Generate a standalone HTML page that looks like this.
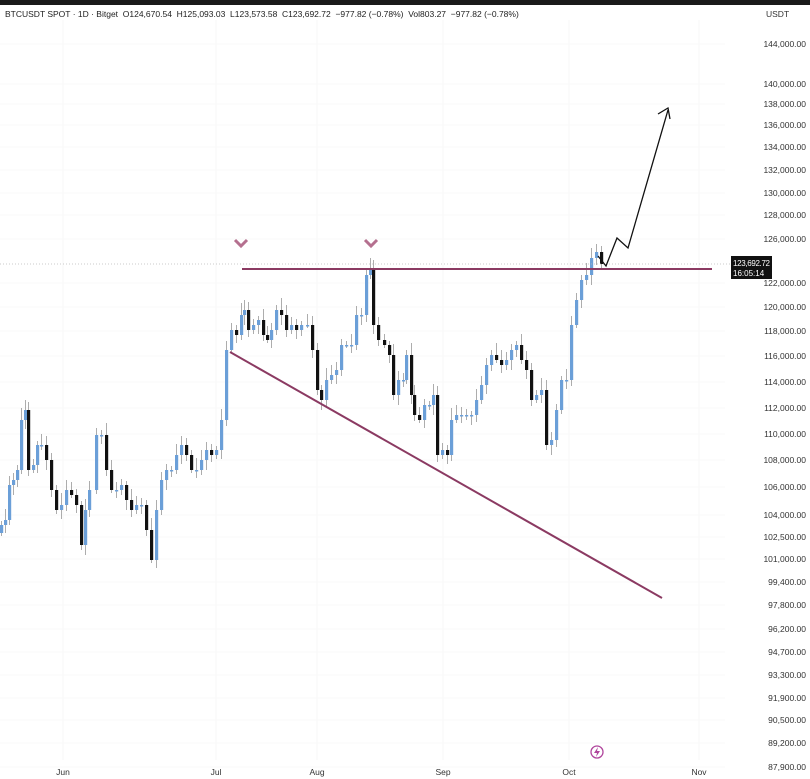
<!DOCTYPE html>
<html><head><meta charset="utf-8"><style>
html,body{margin:0;padding:0;background:#fff;}
body{width:810px;height:779px;overflow:hidden;position:relative;font-family:"Liberation Sans",sans-serif;}
#top{position:absolute;left:0;top:0;width:810px;height:5px;background:#1a1a1a;}
#hdr{position:absolute;left:5px;top:9px;font-size:8.5px;color:#222;white-space:nowrap;}
svg{position:absolute;left:0;top:0;}
</style></head><body>
<div id="top"></div>
<div id="hdr">BTCUSDT SPOT · 1D · Bitget &nbsp;O124,670.54 &nbsp;H125,093.03 &nbsp;L123,573.58 &nbsp;C123,692.72 &nbsp;−977.82 (−0.78%) &nbsp;Vol803.27 &nbsp;−977.82 (−0.78%)</div>
<svg id="s" width="810" height="779" xmlns="http://www.w3.org/2000/svg" font-family="Liberation Sans, sans-serif"></svg>
<script>
const s=document.getElementById('s');let h='';
[63,216,317,443,569,699].forEach(x=>h+=`<line x1="${x}" y1="20" x2="${x}" y2="760" stroke="#f7f7f7"/>`);
const ax=[[144000,44],[140000,84],[138000,104],[136000,125],[134000,147],[132000,170],[130000,193],[128000,215],[126000,239],[122000,283],[120000,307],[118000,331],[116000,356],[114000,382],[112000,408],[110000,434],[108000,460],[106000,487],[104000,515],[102500,537],[101000,559],[99400,582],[97800,605],[96200,629],[94700,652],[93300,675],[91900,698],[90500,720],[89200,743],[87900,767]];
ax.forEach(a=>{h+=`<line x1="0" y1="${a[1]}" x2="725" y2="${a[1]}" stroke="#fafafa"/>`;h+=`<text x="806" y="${a[1]+3}" font-size="8.5" text-anchor="end" fill="#333">${a[0].toLocaleString('en-US')}.00</text>`;});
h+=`<text x="766" y="17" font-size="8.5" fill="#333">USDT</text>`;
const m=[['Jun',63],['Jul',216],['Aug',317],['Sep',443],['Oct',569],['Nov',699]];
m.forEach(a=>h+=`<text x="${a[1]}" y="775" font-size="8.5" text-anchor="middle" fill="#333">${a[0]}</text>`);
const d=[[0,525],[4,520],[8,485],[12,480],[16,470],[20,420],[24,410],[27,470],[32,465],[36,445],[40,445],[45,460],[50,490],[55,510],[60,505],[65,490],[70,495],[75,505],[80,545],[84,510],[88,490],[95,435],[100,435],[105,470],[110,490],[115,490],[120,485],[125,500],[130,510],[135,505],[140,505],[145,530],[150,560],[155,510],[160,480],[165,470],[170,470],[175,455],[180,445],[185,455],[190,470],[195,470],[200,460],[205,450],[210,455],[215,450],[220,420],[225,350],[230,330],[235,335],[240,315],[243,310],[247,330],[252,325],[257,320],[262,335],[266,340],[270,330],[275,310],[280,315],[285,330],[290,325],[295,330],[300,325],[306,325],[311,350],[316,390],[320,400],[325,380],[330,375],[335,370],[340,345],[345,345],[350,345],[355,315],[360,315],[365,275],[369,270],[372,325],[377,340],[383,345],[388,355],[392,395],[397,380],[402,380],[405,355],[410,395],[413,415],[418,420],[423,405],[428,405],[432,395],[436,455],[441,450],[446,455],[450,420],[455,415],[460,415],[465,415],[470,415],[475,400],[480,385],[485,365],[490,355],[495,360],[500,365],[505,360],[510,350],[515,345],[520,360],[525,370],[530,400],[535,395],[540,390],[545,445],[550,440],[555,410],[560,380],[565,380],[570,325],[575,300],[580,280],[585,275],[590,258],[595,252],[600,264]];
for(let i=0;i<d.length;i++){const x=d[i][0],c=d[i][1],o=i?d[i-1][1]:c+8;const up=c<=o;const t=Math.min(o,c),b=Math.max(o,c);const hi=t-4-(i*7%9),lo=b+3+(i*5%8);
h+=`<line x1="${x+1.5}" y1="${hi}" x2="${x+1.5}" y2="${lo}" stroke="#999" stroke-width="0.8"/>`;
h+=`<rect x="${x}" y="${t}" width="3.2" height="${Math.max(b-t,1.5)}" fill="${up?'#6b9fd8':'#111'}"/>`;}
h+=`<line x1="0" y1="264" x2="730" y2="264" stroke="#bbb" stroke-dasharray="1,2" stroke-width="0.7"/>`;
h+=`<line x1="242" y1="269" x2="712" y2="269" stroke="#8b3a62" stroke-width="2"/>`;
h+=`<line x1="230" y1="352" x2="662" y2="598" stroke="#8b3a62" stroke-width="2"/>`;
[241,371].forEach(x=>h+=`<polyline points="${x-6},240 ${x},246 ${x+6},240" fill="none" stroke="#b5708f" stroke-width="3"/>`);
h+=`<polyline points="598,256 606,266 617,238 628,248 668,110" fill="none" stroke="#111" stroke-width="1.3"/>`;
h+=`<polyline points="658,114 668,108 670,119" fill="none" stroke="#111" stroke-width="1.3"/>`;
h+=`<rect x="731" y="256" width="41" height="23" fill="#111"/><text x="733" y="266" font-size="8" fill="#fff" textLength="37">123,692.72</text><text x="733" y="276" font-size="8" fill="#fff">16:05:14</text>`;
h+=`<circle cx="597" cy="752" r="6" fill="none" stroke="#b0459c" stroke-width="1.3"/><path d="M598 747 L594 753 L597 753 L596 757 L600 751 L597 751Z" fill="#b0459c"/>`;
s.innerHTML=h;
</script>
</body></html>
